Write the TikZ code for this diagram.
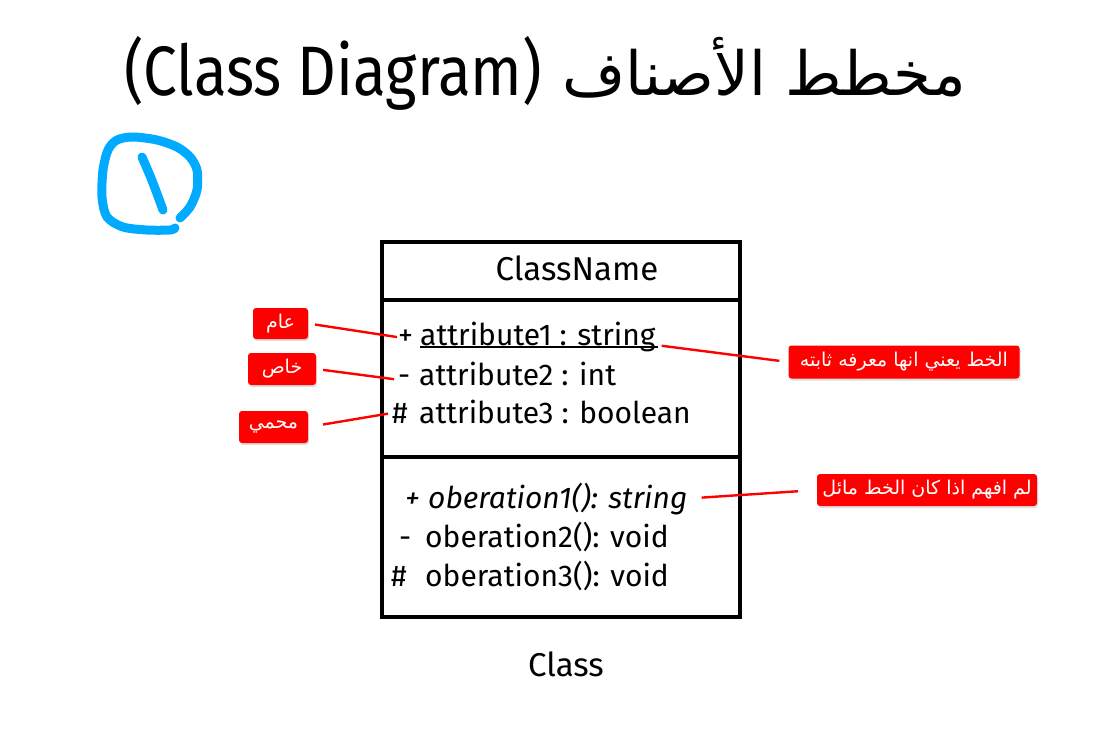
\documentclass[tikz,border=0pt]{standalone}
\usepackage{fontspec}
\setmainfont{Fira Sans}
\newfontfamily\titlefont[FakeStretch=0.86]{Fira Sans}
\newfontfamily\arabicfont[Script=Arabic]{DejaVu Sans}
\TeXXeTstate=1
\usetikzlibrary{shadows}
\definecolor{notered}{RGB}{255,0,0}
\definecolor{penblue}{RGB}{0,170,255}

\begin{document}
\begin{tikzpicture}[x=1pt, y=-1pt,
  classline/.style={line width=4pt},
  member/.style={anchor=base west, inner sep=0pt, font=\fontsize{30}{30}\selectfont},
  opmember/.style={member, font=\fontsize{30}{30}\selectfont\itshape},
  note/.style={fill=notered, text=white, rounded corners=3pt, inner sep=0pt,
    drop shadow={opacity=0.25, shadow xshift=1pt, shadow yshift=-2pt},
    font=\arabicfont\fontsize{19}{19}\selectfont},
  notelink/.style={notered, line width=2.4pt}]
  \useasboundingbox (0,0) rectangle (1100,754);
  % title
  \node[anchor=base west, inner sep=0pt, font=\titlefont\fontsize{70}{70}\selectfont] (title_latin) at (124,96) {(Class Diagram)};
  \node[anchor=base east, inner sep=0pt, font=\arabicfont\fontsize{61}{61}\selectfont] (title_arabic) at (966,96) {\beginR مخطط الأصناف\endR};
  % hand drawn number one
  \draw[penblue, line width=9pt, line cap=round, line join=round] plot[smooth] coordinates {(180,218) (190,207) (197,190) (197,170) (190,157) (177,147) (157,140) (133,137) (117,140) (108,150) (103,170) (102,197) (107,217) (123,227) (147,230) (170,230) (175,228)};
  \draw[penblue, line width=9pt, line cap=round] (142,157) .. controls (152,180) .. (163,210);
  % draw class box with its compartments
  \draw[classline] (382,242) rectangle (740,617);
  \draw[classline] (382,300) -- (740,300);
  \draw[classline] (382,457) -- (740,457);
  \node[anchor=base, inner sep=0pt, font=\fontsize{33}{33}\selectfont] (class_name) at (577,280) {ClassName};
  % attributes
  \node[member] (attr_sgn1) at (398,345) {+};
  \node[member] (attr_row1) at (420,345) {attribute1 : string};
  \node[member] (attr_sgn2) at (398,385) {-};
  \node[member] (attr_row2) at (419,385) {attribute2 : int};
  \node[member] (attr_sgn3) at (392,423) {\#};
  \node[member] (attr_row3) at (419,423) {attribute3 : boolean};
  \draw[line width=1.6pt] ([yshift=-2pt]attr_row1.base west) -- ([xshift=2pt, yshift=-2pt]attr_row1.base east);
  % operations
  \node[opmember] (op_sgn1) at (405,508) {+};
  \node[opmember] (op_row1) at (428,508) {oberation1(): string};
  \node[member] (op_sgn2) at (399,547) {-};
  \node[member] (op_row2) at (425,547) {oberation2(): void};
  \node[member] (op_sgn3) at (391,586) {\#};
  \node[member] (op_row3) at (425,586) {oberation3(): void};
  \node[anchor=base, inner sep=0pt, font=\fontsize{33}{33}\selectfont] (class_caption) at (566,676) {Class};
  % red notes
  \node[note, minimum width=55pt, minimum height=31pt] (note_public) at (280.5,323.5) {\beginR عام\endR};
  \node[note, minimum width=68pt, minimum height=32pt] (note_private) at (282,369) {\beginR خاص\endR};
  \node[note, minimum width=69pt, minimum height=32pt] (note_protected) at (273.5,427) {\beginR محمي\endR};
  \node[note, minimum width=231pt, minimum height=33pt] (note_static) at (904,362) {\beginR الخط يعني انها معرفه ثابته\endR};
  \node[note, minimum width=220pt, minimum height=32pt] (note_italic) at (927,490) {\beginR لم افهم اذا كان الخط مائل\endR};
  \draw[notelink, shorten <=7pt, shorten >=1pt] (note_public.east) -- (attr_sgn1.west);
  \draw[notelink, shorten <=7pt, shorten >=4pt] (note_private.east) -- (attr_sgn2.west);
  \draw[notelink, shorten <=15pt, shorten >=4pt] (note_protected.east) -- (attr_sgn3.west);
  \draw[notelink, shorten <=6pt, shorten >=9pt] (attr_row1.base east) -- (note_static.west);
  \draw[notelink, shorten <=14pt, shorten >=19pt] (op_row1.east) -- (note_italic.west);
\end{tikzpicture}
\end{document}
